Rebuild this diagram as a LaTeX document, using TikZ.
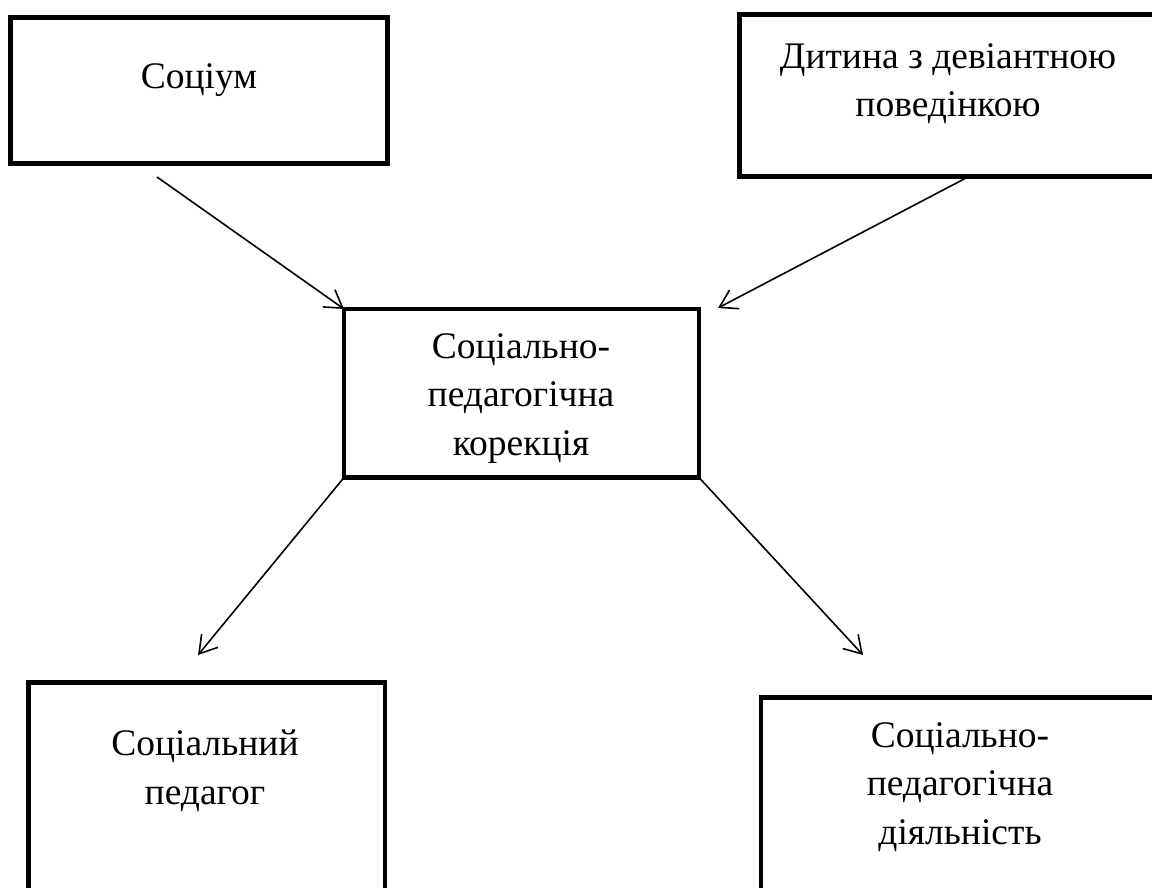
\documentclass[tikz,border=0pt]{standalone}
\usepackage{fontspec}
\setmainfont{Liberation Serif}
\usetikzlibrary{arrows.meta}
\begin{document}
\begin{tikzpicture}[x=1pt,y=-1pt,
  box/.style={draw,line width=4.5pt,rectangle,inner sep=0pt,outer sep=0pt},
  lbl/.style={align=center,anchor=base,inner sep=0pt,font=\fontsize{37.5}{48.5}\selectfont},
  arr/.style={line width=1.6pt,-{Straight Barb[length=17pt,width=21pt,line width=1.6pt]}}]
\clip (0,0) rectangle (1152,887);
\fill[white] (0,0) rectangle (1152,887);
% boxes
\node[box,minimum width=377pt,minimum height=146pt] (soc) at (199,90.5) {};
\node[box,minimum width=420.5pt,minimum height=162pt] (child) at (949.75,95.5) {};
\node[box,minimum width=355pt,minimum height=168.5pt] (core) at (521.5,393.25) {};
\node[box,minimum width=356.5pt,minimum height=235pt] (ped) at (206.75,800) {};
\node[box,minimum width=420pt,minimum height=220pt] (act) at (971,807.5) {};
% texts (anchored at the baseline of the last line)
\node[lbl] (tsoc) at (199,88) {Соціум};
\node[lbl] (tchild) at (948,116.5) {Дитина з девіантною\\поведінкою};
\node[lbl] (tcore) at (521,455) {Соціально-\\педагогічна\\корекція};
\node[lbl] (tped) at (205,804) {Соціальний\\педагог};
\node[lbl] (tact) at (960,844) {Соціально-\\педагогічна\\діяльність};
% connector ends
\coordinate (s1) at (157,177);
\coordinate (s2) at (966,178);
\coordinate (e2) at (718,308);
\coordinate (e3) at (198,655);
\coordinate (e4) at (863,655);
\draw[arr] (s1) -- (core.north west);
\draw[arr] (s2) -- (e2);
\draw[arr] (core.south west) -- (e3);
\draw[arr] (core.south east) -- (e4);
\end{tikzpicture}
\end{document}
